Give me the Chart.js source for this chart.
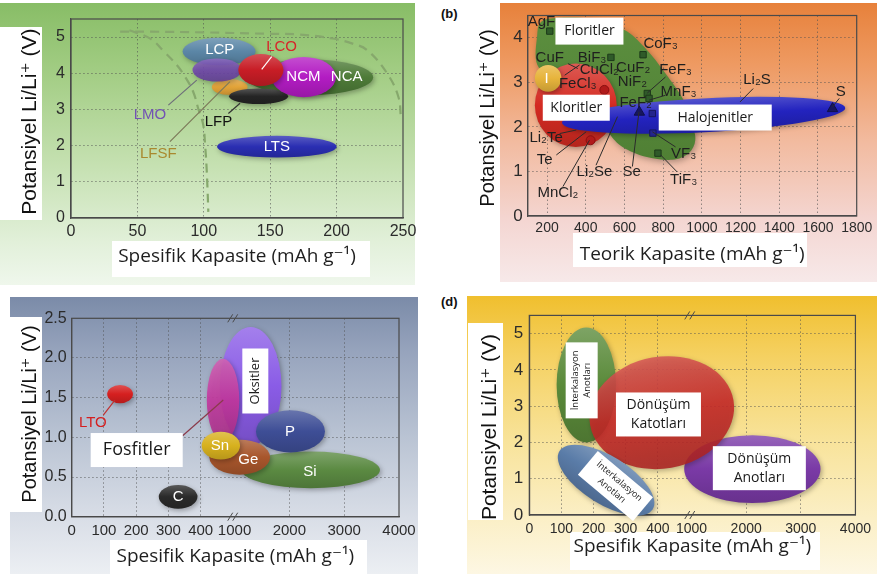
<!DOCTYPE html>
<html lang="tr">
<head>
<meta charset="utf-8">
<title>Potansiyel – Kapasite haritaları</title>
<script src="https://cdn.jsdelivr.net/npm/chart.js@4.4.1/dist/chart.umd.min.js"></script>
<style>
  html, body { margin: 0; padding: 0; background: #ffffff; }
  #figure { position: relative; width: 877px; height: 574px; overflow: hidden; background: #ffffff; }
  .panel-bg, .title-box, .tag, canvas { position: absolute; }
  .title-box { background: #ffffff; }
  .tag { font: bold 13px "Liberation Sans", Arial, sans-serif; color: #111; }
  #bgA { left: 0; top: 3px; width: 415px; height: 282px;
         background: linear-gradient(180deg, #88bd66 0%, #a6cf88 28%, #c6e1b2 58%, #e2f0da 85%, #eff7ec 100%); }
  #bgB { left: 500px; top: 3px; width: 377px; height: 279px;
         background: linear-gradient(180deg, #e7813b 0%, #ee9a62 22%, #f2bba0 50%, #f4d6d2 78%, #f7e9e9 100%); }
  #bgC { left: 10px; top: 297px; width: 408px; height: 277px;
         background: linear-gradient(180deg, #7b8ba8 0%, #97a4bd 20%, #b9c3d3 50%, #d9dee7 80%, #eceff3 100%); }
  #bgD { left: 467px; top: 296px; width: 410px; height: 278px;
         background: linear-gradient(180deg, #f0bf2e 0%, #f5d162 22%, #f8e39a 52%, #fbefc6 80%, #fdf7e3 100%); }
</style>
</head>
<body>
<div id="figure">
  <div class="panel-bg" id="bgA"></div>
  <div class="panel-bg" id="bgB"></div>
  <div class="panel-bg" id="bgC"></div>
  <div class="panel-bg" id="bgD"></div>

  <div class="title-box" style="left:0;top:27px;width:42px;height:193px"></div>
  <div class="title-box" style="left:112px;top:241px;width:258px;height:36px"></div>
  <div class="title-box" style="left:573px;top:233px;width:234px;height:34px"></div>
  <div class="title-box" style="left:0;top:317px;width:42px;height:195px"></div>
  <div class="title-box" style="left:110px;top:540px;width:257px;height:34px"></div>
  <div class="title-box" style="left:468px;top:323px;width:35px;height:197px"></div>
  <div class="title-box" style="left:570px;top:532px;width:250px;height:38px"></div>

  <div class="tag" style="left:441px;top:6px">(b)</div>
  <div class="tag" style="left:441px;top:294px">(d)</div>

  <canvas id="ca" width="438" height="287" style="left:0;top:0"></canvas>
  <canvas id="cb" width="437" height="287" style="left:440px;top:0"></canvas>
  <canvas id="cc" width="438" height="284" style="left:0;top:290px"></canvas>
  <canvas id="cd" width="437" height="284" style="left:440px;top:290px"></canvas>
</div>

<script>
// ===================== Panel (a): intercalation cathodes =====================
const aCapTicks  = [0, 50, 100, 150, 200, 250];
const aVoltTicks = [0, 1, 2, 3, 4, 5];
const aMaterials = ['NCA', 'LCP', 'LFSF', 'LFP', 'NCM', 'LMO', 'LCO', 'LTS'];
const aCapRange  = [[132, 227.5], [84, 139], [106, 133], [119, 163.5], [151, 199.5], [91.5, 128.5], [126, 160], [110, 200]];
const aVoltRange = [[3.40, 4.38], [4.22, 4.98], [3.40, 3.84], [3.15, 3.58], [3.34, 4.45], [3.77, 4.41], [3.65, 4.53], [1.67, 2.27]];
const aOuterLimitCap = [37, 60, 100, 150, 172, 197, 212, 223, 238, 246.5, 248.5];
const aOuterLimitV   = [5.15, 5.15, 5.13, 5.09, 5.07, 4.96, 4.82, 4.64, 4.0, 3.35, 2.75];
const aInnerLimitCap = [44, 60, 70, 79.6, 86, 92, 96, 99.6, 101, 102, 102.8, 103.4];
const aInnerLimitV   = [5.19, 4.95, 4.6, 4.23, 3.9, 3.49, 3.0, 2.57, 2.0, 1.46, 0.8, 0.17];
const aLabelText = ['LCP', 'LCO', 'NCM', 'NCA', 'LTS', 'LMO', 'LFSF', 'LFP'];
const aLabelCap  = [112, 158.6, 175, 207.6, 155, 59.5, 65.7, 111];
const aLabelV    = [4.64, 4.73, 3.89, 3.89, 1.97, 2.85, 1.77, 2.66];
const aLeaderOf  = ['LCO', 'LMO', 'LFSF', 'LFP'];
const aLeaderCap = [[151.1, 143.6], [73.3, 94.7], [74.5, 119.7], [118.5, 127.3]];
const aLeaderV   = [[4.46, 4.11], [3.12, 3.81], [2.11, 3.77], [2.89, 3.17]];

// ===================== Panel (b): conversion cathodes =====================
const bCapTicks  = [200, 400, 600, 800, 1000, 1200, 1400, 1600, 1800];
const bVoltTicks = [0, 1, 2, 3, 4];
const bFluorideCap = [149, 149, 170, 260, 430, 598, 705, 812, 906, 949, 966, 932, 846, 710, 590, 522, 470, 400, 250];
const bFluorideV   = [3.4, 4.05, 4.36, 4.45, 4.42, 4.18, 3.78, 3.2, 2.6, 2.08, 1.7, 1.41, 1.26, 1.33, 1.55, 1.85, 2.3, 2.7, 3.0];
const bRegionNames = ['Kloritler', 'I', 'Halojenitler'];
const bRegionCap   = [[137, 560], [137, 274], [276, 1742]];
const bRegionV     = [[1.55, 3.42], [2.79, 3.39], [1.88, 2.64]];
const bSquareCap = [214, 530, 696, 718, 727, 773];
const bSquareV   = [4.15, 3.56, 3.62, 2.75, 2.64, 1.41];
const bBlueSquareCap = [744, 747];
const bBlueSquareV   = [2.30, 1.86];
const bTriangleCap = [677, 1675];
const bTriangleV   = [2.33, 2.41];
const bCircleCap = [425, 496];
const bCircleV   = [1.70, 2.83];
const bLabelText = ['AgF', 'CuF', 'BiF₃', 'CuCl₂', 'CuF₂', 'CoF₃', 'FeCl₃', 'NiF₂', 'FeF₃', 'MnF₃', 'FeF₂',
                    'Li₂S', 'S', 'Li₂Te', 'Te', 'MnCl₂', 'Li₂Se', 'Se', 'VF₃', 'TiF₃', 'I'];
const bLabelCap = [171, 214, 433, 470, 645, 787, 359, 641, 864, 880, 658, 1285, 1718, 195, 188, 256, 445, 637, 906, 906, 197];
const bLabelV   = [4.36, 3.56, 3.56, 3.27, 3.33, 3.87, 2.96, 3.00, 3.27, 2.79, 2.55, 3.06, 2.79, 1.75, 1.25, 0.52, 0.99, 0.99, 1.39, 0.81, 3.08];
const bLeaderCap = [[308, 359], [368, 291], [812, 718], [812, 727], [1265, 1197], [1710, 1675], [265, 351], [248, 402],
                    [282, 419], [453, 564], [641, 675], [864, 744], [872, 787]];
const bLeaderV   = [[3.42, 3.31], [3.39, 3.16], [3.12, 2.76], [2.71, 2.60], [2.86, 2.56], [2.64, 2.45], [1.85, 1.93], [1.37, 1.89],
                    [0.66, 1.70], [1.14, 2.23], [1.11, 2.34], [1.55, 1.89], [0.99, 1.37]];
const bBoxText = ['Floritler', 'Kloritler', 'Halojenitler'];
const bBoxCap  = [419, 351, 1069];
const bBoxV    = [4.15, 2.43, 2.21];

// ===================== Panel (c): anodes =====================
const cCapTicks  = [0, 100, 200, 300, 400, 1000, 2000, 3000, 4000];
const cVoltTicks = [0, 0.5, 1.0, 1.5, 2.0, 2.5];
const cMaterials = ['LTO', 'C', 'Oksitler', 'Fosfitler', 'Si', 'P', 'Ge', 'Sn'];
const cCapRange  = [[110, 190], [270, 390], [459.5, 1856], [419, 1086], [1129, 3653], [1391, 2649], [427, 1647], [403, 1100]];
const cVoltRange = [[1.43, 1.66], [0.10, 0.40], [0.90, 2.39], [0.95, 1.99], [0.36, 0.82], [0.81, 1.34], [0.53, 0.97], [0.72, 1.07]];
const cLabelText = ['LTO', 'C', 'Sn', 'Ge', 'P', 'Si'];
const cLabelCap  = [65.5, 330, 460, 1251, 2012, 2376];
const cLabelV    = [1.18, 0.25, 0.89, 0.71, 1.07, 0.57];
const cLeaderCap = [[98, 134], [344, 470]];
const cLeaderV   = [[1.28, 1.47], [1.02, 1.47]];
const cBoxText = ['Oksitler', 'Fosfitler'];
const cBoxCap  = [1379, 201.6];
const cBoxV    = [1.71, 0.84];

// ===================== Panel (d): overview =====================
const dCapTicks  = [0, 100, 200, 300, 400, 1000, 2000, 3000, 4000];
const dVoltTicks = [0, 1, 2, 3, 4, 5];
const dRegionKeys = ['convAnode', 'intercalHigh', 'convCathode', 'intercalLow'];
const dCapRange   = [[482, 3361], [85, 270], [186, 1787], [68, 410]];
const dVoltRange  = [[0.33, 2.2], [2.0, 5.17], [1.28, 4.36], [0.30, 1.62]];
const dBoxText = [['İnterkalasyon', 'Anotları'], ['Dönüşüm', 'Katotları'], ['Dönüşüm', 'Anotları'], ['İnterkalasyon', 'Anotları']];
const dBoxCap  = [163, 402, 2241, 268];
const dBoxV    = [3.71, 2.77, 1.29, 0.80];

// ===================== styles =====================
const FONT_SANS = '"Liberation Sans", "DejaVu Sans", Arial, sans-serif';
const FONT_OPEN = '"Open Sans", "DejaVu Sans", sans-serif';
const GRID_COLOR = 'rgba(80,80,80,0.6)';
const aFill = { LCP: '#5b86a6', LFSF: '#e2a338', LFP: '#252525', NCA: '#4e7b38', NCM: '#b31cc3', LMO: '#7043b0', LCO: '#c81d26', LTS: '#2a2eb2' };
const aAlpha = { LMO: 0.86 };
const aTextColor = { LCP: '#ffffff', LCO: '#d7252b', NCM: '#ffffff', NCA: '#ffffff', LTS: '#ffffff', LMO: '#7252b4', LFSF: '#a9892f', LFP: '#111111' };
const aLeaderColor = { LCO: '#ffffff', LMO: '#6d6d7a', LFSF: '#7d7a5a', LFP: '#333333' };
const bFill = { Kloritler: '#d42b22', I: '#e7b43c', Halojenitler: '#2323bf' };
const bTilt = { Kloritler: 0, I: 0, Halojenitler: -3 };
const bBoxSize = [[68, 27], [67, 26], [113, 26]];
const cFill = { LTO: '#d62020', C: '#2a2a2a', Oksitler: '#8a5ce6', Fosfitler: '#c4379f', Si: '#5b8a42', P: '#3e4e96', Ge: '#a8562c', Sn: '#d7b11e' };
const cAlpha = { Fosfitler: 0.9 };
const cTextColor = { LTO: '#d42020', C: '#ffffff', Sn: '#ffffff', Ge: '#ffffff', P: '#ffffff', Si: '#ffffff' };
const cLeaderColor = ['#c03030', '#8a3a4a'];
const cBoxStyle = [{ w: 65, h: 26, rot: -90, size: 13, gap: 0 }, { w: 92, h: 34, rot: 0, size: 18, gap: 0 }];
const dFill = { convAnode: '#7a3aa6', intercalHigh: '#5a8a3a', convCathode: '#c82828', intercalLow: '#5a7ca8' };
const dAlpha = { convCathode: 0.87 };
const dTilt = { convAnode: 0, intercalHigh: 0, convCathode: -10, intercalLow: 32 };
const dBoxStyle = [{ w: 76, h: 32, rot: -90, size: 9.5, gap: 12 }, { w: 85, h: 44, rot: 0, size: 14, gap: 19 },
                   { w: 93, h: 44, rot: 0, size: 14, gap: 19 }, { w: 72, h: 31, rot: 40, size: 9, gap: 12 }];

// capacity axis with a break between 500 and 1000 mAh/g
const brokenCap = c => c <= 500 ? c : (c < 1000 ? 500 + (c - 500) * 0.01 : 505 + (c - 1000) * 0.17);
const identity = c => c;

// ===================== drawing helpers =====================
function hexToRgb(h) { const n = parseInt(h.slice(1), 16); return [(n >> 16) & 255, (n >> 8) & 255, n & 255]; }
function shade(h, f) {
  const m = v => Math.round(f >= 0 ? v + (255 - v) * f : v * (1 + f));
  const [r, g, b] = hexToRgb(h);
  return `rgb(${m(r)},${m(g)},${m(b)})`;
}
function drawBlob(ctx, cx, cy, rx, ry, rotDeg, color, alpha) {
  ctx.save();
  ctx.translate(cx, cy);
  ctx.rotate(rotDeg * Math.PI / 180);
  ctx.globalAlpha = alpha;
  ctx.shadowColor = 'rgba(0,0,0,0.30)';
  ctx.shadowBlur = 5; ctx.shadowOffsetX = 1.5; ctx.shadowOffsetY = 2;
  const g = ctx.createLinearGradient(0, -ry, 0, ry);
  g.addColorStop(0, shade(color, 0.22));
  g.addColorStop(0.5, color);
  g.addColorStop(1, shade(color, -0.15));
  ctx.fillStyle = g;
  ctx.beginPath();
  ctx.ellipse(0, 0, rx, ry, 0, 0, Math.PI * 2);
  ctx.fill();
  ctx.restore();
}
function rangeEllipse(chart, xMap, capRange, vRange) {
  const xs = chart.scales.x, ys = chart.scales.y;
  const x0 = xs.getPixelForValue(xMap(capRange[0])), x1 = xs.getPixelForValue(xMap(capRange[1]));
  const y0 = ys.getPixelForValue(vRange[0]), y1 = ys.getPixelForValue(vRange[1]);
  return { cx: (x0 + x1) / 2, cy: (y0 + y1) / 2, rx: Math.abs(x1 - x0) / 2, ry: Math.abs(y1 - y0) / 2 };
}
function text(ctx, t, x, y, font, color) {
  ctx.save();
  ctx.font = font; ctx.fillStyle = color; ctx.textAlign = 'center'; ctx.textBaseline = 'middle';
  ctx.fillText(t, x, y);
  ctx.restore();
}
function segment(ctx, x1, y1, x2, y2, color, width) {
  ctx.save();
  ctx.strokeStyle = color; ctx.lineWidth = width;
  ctx.beginPath(); ctx.moveTo(x1, y1); ctx.lineTo(x2, y2); ctx.stroke();
  ctx.restore();
}
function whiteBox(ctx, x, y, w, h, rotDeg, lines, font, gap) {
  ctx.save();
  ctx.translate(x, y);
  ctx.rotate(rotDeg * Math.PI / 180);
  ctx.fillStyle = '#ffffff';
  ctx.fillRect(-w / 2, -h / 2, w, h);
  ctx.fillStyle = '#1a1a1a'; ctx.font = font; ctx.textAlign = 'center'; ctx.textBaseline = 'middle';
  const n = lines.length;
  lines.forEach((t, i) => ctx.fillText(t, 0, (i - (n - 1) / 2) * gap));
  ctx.restore();
}
function closedSpline(ctx, pts) {
  const n = pts.length;
  ctx.beginPath();
  ctx.moveTo(pts[0].x, pts[0].y);
  for (let i = 0; i < n; i++) {
    const p0 = pts[(i - 1 + n) % n], p1 = pts[i], p2 = pts[(i + 1) % n], p3 = pts[(i + 2) % n];
    ctx.bezierCurveTo(p1.x + (p2.x - p0.x) / 6, p1.y + (p2.y - p0.y) / 6,
                      p2.x - (p3.x - p1.x) / 6, p2.y - (p3.y - p1.y) / 6, p2.x, p2.y);
  }
  ctx.closePath();
}
function frame(chart) {
  const { ctx, chartArea: a } = chart;
  ctx.save();
  ctx.strokeStyle = '#4a4a4a'; ctx.lineWidth = 1.2;
  ctx.strokeRect(a.left, a.top, a.right - a.left, a.bottom - a.top);
  ctx.restore();
}
function breakMarks(chart, u) {
  const { ctx, chartArea: a } = chart;
  const x = chart.scales.x.getPixelForValue(u);
  ctx.save();
  ctx.strokeStyle = '#4a4a4a'; ctx.lineWidth = 1;
  for (const y of [a.top, a.bottom]) {
    ctx.beginPath();
    ctx.moveTo(x - 6, y + 4); ctx.lineTo(x - 1, y - 4);
    ctx.moveTo(x - 1, y + 4); ctx.lineTo(x + 4, y - 4);
    ctx.stroke();
  }
  ctx.restore();
}
function yTitle(chart, t, cx, cy, size) {
  const ctx = chart.ctx;
  ctx.save();
  ctx.translate(cx, cy);
  ctx.rotate(-Math.PI / 2);
  ctx.font = `${size}px ${FONT_SANS}`; ctx.fillStyle = '#111'; ctx.textAlign = 'center'; ctx.textBaseline = 'middle';
  ctx.fillText(t, 0, 0);
  ctx.restore();
}

// ===================== chart factory =====================
Chart.defaults.font.family = FONT_SANS;
Chart.defaults.color = '#2b2b2b';

function axis(o) {
  return {
    type: 'linear', min: o.min, max: o.max,
    afterBuildTicks: s => { s.ticks = o.ticks.map(v => ({ value: v })); },
    afterFit: o.fit,
    ticks: {
      autoSkip: false, maxRotation: 0, minRotation: 0, padding: o.pad, color: '#2b2b2b',
      font: { size: o.fontSize },
      callback: (v, i) => o.labels ? o.labels[i] : String(v)
    },
    grid: {
      drawTicks: false, lineWidth: 1,
      color: c => (c.tick && o.hideGrid.includes(c.tick.value)) ? 'rgba(0,0,0,0)' : GRID_COLOR
    },
    border: { display: true, color: '#4a4a4a', width: 1.2, dash: [1.5, 2.5] },
    title: o.title
      ? { display: true, text: o.title, color: '#1e1e1e', font: { family: FONT_OPEN, size: 19 }, padding: { top: 0, bottom: o.titlePad } }
      : { display: false }
  };
}

function build(id, spec) {
  const cv = document.getElementById(id);
  const W = cv.width, H = cv.height, A = spec.area;
  return new Chart(cv, {
    type: 'scatter',
    data: { datasets: spec.datasets },
    options: {
      responsive: false, animation: false, devicePixelRatio: 1,
      layout: { padding: { left: 0, top: A.top, right: W - A.right, bottom: 0 } },
      plugins: { legend: { display: false }, tooltip: { enabled: false } },
      scales: {
        x: axis(Object.assign({ fit: s => { s.height = H - A.bottom; } }, spec.x)),
        y: axis(Object.assign({ fit: s => { s.width = A.left; } }, spec.y))
      }
    },
    plugins: [spec.plugin]
  });
}
const pts = (xs, ys) => xs.map((x, i) => ({ x, y: ys[i] }));

// ----- panel (a)
build('ca', {
  area: { left: 71, right: 403, top: 19, bottom: 218 },
  x: { min: 0, max: 250, ticks: aCapTicks, fontSize: 16, pad: 4, hideGrid: [0, 250],
       title: 'Spesifik Kapasite (mAh g⁻¹)', titlePad: 18.9 },
  y: { min: 0, max: 5.5, ticks: aVoltTicks, fontSize: 16, pad: 6, hideGrid: [0] },
  datasets: [
    { data: pts(aOuterLimitCap, aOuterLimitV), showLine: true, borderColor: '#86a86c', borderWidth: 2.2,
      borderDash: [9, 6], pointRadius: 0, tension: 0.4, fill: false },
    { data: pts(aInnerLimitCap, aInnerLimitV), showLine: true, borderColor: '#86a86c', borderWidth: 2.2,
      borderDash: [9, 6], pointRadius: 0, tension: 0.4, fill: false }
  ],
  plugin: {
    id: 'panelA',
    beforeDatasetsDraw(chart) { frame(chart); },
    afterDatasetsDraw(chart) {
      const ctx = chart.ctx, xs = chart.scales.x, ys = chart.scales.y;
      aMaterials.forEach((m, i) => {
        const e = rangeEllipse(chart, identity, aCapRange[i], aVoltRange[i]);
        drawBlob(ctx, e.cx, e.cy, e.rx, e.ry, 0, aFill[m], aAlpha[m] ?? 1);
      });
      aLeaderOf.forEach((m, i) => segment(ctx,
        xs.getPixelForValue(aLeaderCap[i][0]), ys.getPixelForValue(aLeaderV[i][0]),
        xs.getPixelForValue(aLeaderCap[i][1]), ys.getPixelForValue(aLeaderV[i][1]), aLeaderColor[m], 1.2));
      aLabelText.forEach((t, i) => text(ctx, t, xs.getPixelForValue(aLabelCap[i]), ys.getPixelForValue(aLabelV[i]),
        `15px ${FONT_SANS}`, aTextColor[t]));
    },
    afterDraw(chart) { yTitle(chart, 'Potansiyel Li/Li⁺ (V)', 30, 121.7, 21); }
  }
});

// ----- panel (b)
build('cb', {
  area: { left: 87.7, right: 416.7, top: 15.5, bottom: 216 },
  x: { min: 100, max: 1800, ticks: bCapTicks, fontSize: 14, pad: 4, hideGrid: [1800],
       title: 'Teorik Kapasite (mAh g⁻¹)', titlePad: 20.6 },
  y: { min: 0, max: 4.5, ticks: bVoltTicks, fontSize: 17, pad: 5, hideGrid: [0] },
  datasets: [
    { data: pts(bSquareCap, bSquareV), pointStyle: 'rect', pointRadius: 4.5, backgroundColor: '#2f5a29', borderColor: '#1d3a1a', borderWidth: 1 },
    { data: pts(bBlueSquareCap, bBlueSquareV), pointStyle: 'rect', pointRadius: 4.5, backgroundColor: '#24248c', borderColor: '#16165e', borderWidth: 1 },
    { data: pts(bTriangleCap, bTriangleV), pointStyle: 'triangle', pointRadius: 6, backgroundColor: '#17175e', borderColor: '#10104a', borderWidth: 1 },
    { data: pts(bCircleCap, bCircleV), pointStyle: 'circle', pointRadius: 4.5, backgroundColor: '#b01a1a', borderColor: '#8a1010', borderWidth: 1 }
  ],
  plugin: {
    id: 'panelB',
    beforeDatasetsDraw(chart) {
      const ctx = chart.ctx, xs = chart.scales.x, ys = chart.scales.y;
      frame(chart);
      const outline = bFluorideCap.map((c, i) => ({ x: xs.getPixelForValue(c), y: ys.getPixelForValue(bFluorideV[i]) }));
      ctx.save();
      ctx.shadowColor = 'rgba(0,0,0,0.3)'; ctx.shadowBlur = 6; ctx.shadowOffsetX = 1.5; ctx.shadowOffsetY = 2;
      const g = ctx.createLinearGradient(0, chart.chartArea.top, 0, chart.chartArea.bottom);
      g.addColorStop(0, '#5c8f3f'); g.addColorStop(1, '#4b7a30');
      ctx.fillStyle = g;
      closedSpline(ctx, outline);
      ctx.fill();
      ctx.restore();
      bRegionNames.forEach((m, i) => {
        const e = rangeEllipse(chart, identity, bRegionCap[i], bRegionV[i]);
        drawBlob(ctx, e.cx, e.cy, e.rx, e.ry, bTilt[m], bFill[m], 1);
      });
    },
    afterDatasetsDraw(chart) {
      const ctx = chart.ctx, xs = chart.scales.x, ys = chart.scales.y;
      bLeaderCap.forEach((c, i) => segment(ctx,
        xs.getPixelForValue(c[0]), ys.getPixelForValue(bLeaderV[i][0]),
        xs.getPixelForValue(c[1]), ys.getPixelForValue(bLeaderV[i][1]), '#2b2b2b', 1));
      bLabelText.forEach((t, i) => text(ctx, t, xs.getPixelForValue(bLabelCap[i]), ys.getPixelForValue(bLabelV[i]),
        `15px ${FONT_SANS}`, t === 'I' ? '#ffffff' : '#1f1f1f'));
      bBoxText.forEach((t, i) => whiteBox(ctx, xs.getPixelForValue(bBoxCap[i]), ys.getPixelForValue(bBoxV[i]),
        bBoxSize[i][0], bBoxSize[i][1], 0, [t], `14px ${FONT_OPEN}`, 0));
    },
    afterDraw(chart) { yTitle(chart, 'Potansiyel Li/Li⁺ (V)', 48, 118, 20); }
  }
});

// ----- panel (c)
build('cc', {
  area: { left: 71.7, right: 399, top: 28.3, bottom: 226.7 },
  x: { min: 0, max: 1015, ticks: cCapTicks.map(brokenCap), labels: cCapTicks.map(String), fontSize: 15, pad: 5,
       hideGrid: [0, 505, 1015], title: 'Spesifik Kapasite (mAh g⁻¹)', titlePad: 5.9 },
  y: { min: 0, max: 2.5, ticks: cVoltTicks, labels: cVoltTicks.map(v => v.toFixed(1)), fontSize: 16, pad: 5, hideGrid: [0, 2.5] },
  datasets: [],
  plugin: {
    id: 'panelC',
    beforeDatasetsDraw(chart) { frame(chart); breakMarks(chart, 502.5); },
    afterDatasetsDraw(chart) {
      const ctx = chart.ctx, xs = chart.scales.x, ys = chart.scales.y;
      cMaterials.forEach((m, i) => {
        const e = rangeEllipse(chart, brokenCap, cCapRange[i], cVoltRange[i]);
        drawBlob(ctx, e.cx, e.cy, e.rx, e.ry, 0, cFill[m], cAlpha[m] ?? 1);
      });
      cLeaderCap.forEach((c, i) => segment(ctx,
        xs.getPixelForValue(brokenCap(c[0])), ys.getPixelForValue(cLeaderV[i][0]),
        xs.getPixelForValue(brokenCap(c[1])), ys.getPixelForValue(cLeaderV[i][1]), cLeaderColor[i], 1.2));
      cLabelText.forEach((t, i) => text(ctx, t, xs.getPixelForValue(brokenCap(cLabelCap[i])), ys.getPixelForValue(cLabelV[i]),
        `15px ${FONT_SANS}`, cTextColor[t]));
      cBoxText.forEach((t, i) => {
        const s = cBoxStyle[i];
        whiteBox(ctx, xs.getPixelForValue(brokenCap(cBoxCap[i])), ys.getPixelForValue(cBoxV[i]), s.w, s.h, s.rot, [t],
          `${s.size}px ${FONT_OPEN}`, s.gap);
      });
    },
    afterDraw(chart) { yTitle(chart, 'Potansiyel Li/Li⁺ (V)', 30, 124, 20); }
  }
});

// ----- panel (d)
build('cd', {
  area: { left: 89.3, right: 420.9, top: 25.4, bottom: 225 },
  x: { min: 0, max: 1015, ticks: dCapTicks.map(brokenCap), labels: dCapTicks.map(String), fontSize: 14, pad: 6,
       hideGrid: [0, 505, 1015], title: 'Spesifik Kapasite (mAh g⁻¹)', titlePad: 15.9 },
  y: { min: 0, max: 5.5, ticks: dVoltTicks, fontSize: 17, pad: 6, hideGrid: [0] },
  datasets: [],
  plugin: {
    id: 'panelD',
    beforeDatasetsDraw(chart) { frame(chart); breakMarks(chart, 502.5); },
    afterDatasetsDraw(chart) {
      const ctx = chart.ctx, xs = chart.scales.x, ys = chart.scales.y;
      dRegionKeys.forEach((k, i) => {
        const e = rangeEllipse(chart, brokenCap, dCapRange[i], dVoltRange[i]);
        drawBlob(ctx, e.cx, e.cy, e.rx, e.ry, dTilt[k], dFill[k], dAlpha[k] ?? 1);
      });
      dBoxText.forEach((lines, i) => {
        const s = dBoxStyle[i];
        whiteBox(ctx, xs.getPixelForValue(brokenCap(dBoxCap[i])), ys.getPixelForValue(dBoxV[i]), s.w, s.h, s.rot, lines,
          `${s.size}px ${FONT_OPEN}`, s.gap);
      });
    },
    afterDraw(chart) { yTitle(chart, 'Potansiyel Li/Li⁺ (V)', 50, 137, 21); }
  }
});
</script>
</body>
</html>
